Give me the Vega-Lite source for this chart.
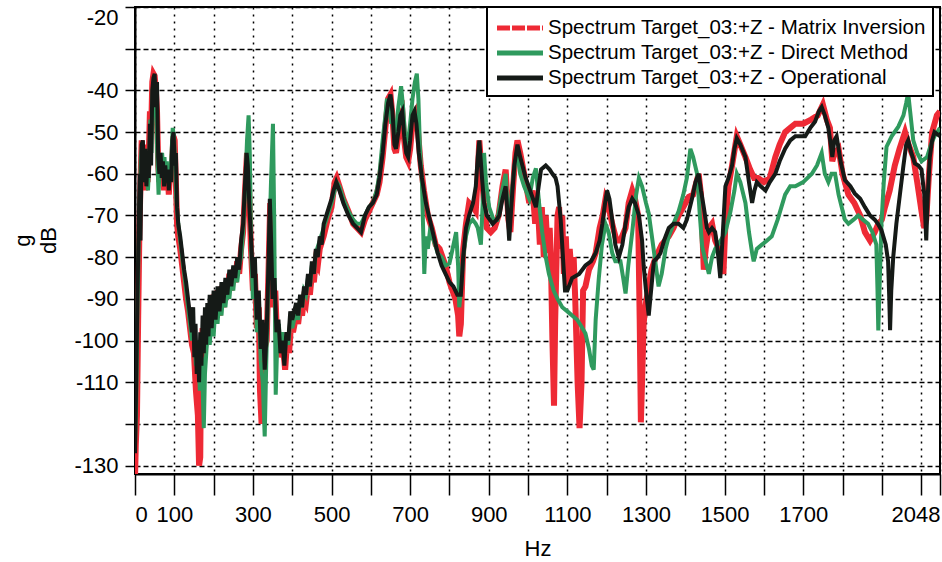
{
"$schema": "https://vega.github.io/schema/vega-lite/v6.json",
"width": 805, "height": 467,
"autosize": {"type": "none"},
"padding": {"left": 135, "top": 7, "right": 2, "bottom": 88},
"background": "white",
"datasets": {
"mi": [
{"hz":0,"db":-133},{"hz":2,"db":-125},{"hz":5,"db":-118},{"hz":8,"db":-95},{"hz":11,"db":-75},{"hz":14,"db":-62},{"hz":17,"db":-52},{"hz":20,"db":-60},{"hz":23,"db":-53},{"hz":26,"db":-64},{"hz":29,"db":-55},{"hz":32,"db":-62},{"hz":35,"db":-56},{"hz":38,"db":-45},{"hz":41,"db":-50},{"hz":44,"db":-38},{"hz":47,"db":-36},{"hz":50,"db":-36.5},{"hz":53,"db":-40},{"hz":56,"db":-45},{"hz":59,"db":-58},{"hz":62,"db":-62},{"hz":65,"db":-56},{"hz":68,"db":-61},{"hz":71,"db":-58},{"hz":74,"db":-64},{"hz":77,"db":-58},{"hz":80,"db":-63},{"hz":83,"db":-59},{"hz":86,"db":-65},{"hz":89,"db":-60},{"hz":92,"db":-61},{"hz":95,"db":-56},{"hz":98,"db":-51},{"hz":101,"db":-52},{"hz":104,"db":-62},{"hz":107,"db":-72},{"hz":110,"db":-75},{"hz":115,"db":-78},{"hz":120,"db":-82},{"hz":125,"db":-86},{"hz":130,"db":-90},{"hz":135,"db":-93},{"hz":140,"db":-97},{"hz":145,"db":-101},{"hz":150,"db":-103},{"hz":155,"db":-112},{"hz":160,"db":-118},{"hz":163,"db":-130},{"hz":166,"db":-128},{"hz":168,"db":-105},{"hz":172,"db":-97},{"hz":176,"db":-104},{"hz":180,"db":-94},{"hz":185,"db":-100},{"hz":190,"db":-91},{"hz":195,"db":-98},{"hz":200,"db":-89},{"hz":205,"db":-96},{"hz":210,"db":-88},{"hz":215,"db":-94},{"hz":220,"db":-87},{"hz":225,"db":-92},{"hz":230,"db":-86},{"hz":235,"db":-90},{"hz":240,"db":-84},{"hz":245,"db":-88},{"hz":250,"db":-83},{"hz":255,"db":-86},{"hz":260,"db":-81},{"hz":265,"db":-84},{"hz":270,"db":-78},{"hz":275,"db":-74},{"hz":280,"db":-64},{"hz":285,"db":-55},{"hz":290,"db":-63},{"hz":295,"db":-78},{"hz":300,"db":-88},{"hz":305,"db":-84},{"hz":310,"db":-97},{"hz":315,"db":-92},{"hz":318,"db":-112},{"hz":322,"db":-120},{"hz":325,"db":-108},{"hz":330,"db":-102},{"hz":335,"db":-100},{"hz":340,"db":-82},{"hz":344,"db":-67},{"hz":348,"db":-78},{"hz":352,"db":-92},{"hz":357,"db":-88},{"hz":362,"db":-101},{"hz":367,"db":-98},{"hz":372,"db":-104},{"hz":377,"db":-102},{"hz":382,"db":-107},{"hz":387,"db":-100},{"hz":392,"db":-103},{"hz":397,"db":-96},{"hz":402,"db":-98},{"hz":410,"db":-94},{"hz":415,"db":-96},{"hz":420,"db":-92},{"hz":425,"db":-94},{"hz":430,"db":-90},{"hz":435,"db":-91},{"hz":440,"db":-87},{"hz":445,"db":-89},{"hz":450,"db":-84},{"hz":455,"db":-86},{"hz":460,"db":-81},{"hz":465,"db":-82},{"hz":470,"db":-78},{"hz":480,"db":-75},{"hz":490,"db":-71},{"hz":500,"db":-68},{"hz":508,"db":-62},{"hz":513,"db":-61},{"hz":520,"db":-63},{"hz":530,"db":-66},{"hz":543,"db":-69},{"hz":555,"db":-72},{"hz":565,"db":-73},{"hz":575,"db":-74},{"hz":585,"db":-71},{"hz":595,"db":-69},{"hz":605,"db":-67},{"hz":615,"db":-65},{"hz":622,"db":-62},{"hz":630,"db":-56},{"hz":637,"db":-49},{"hz":644,"db":-42},{"hz":650,"db":-41},{"hz":655,"db":-46},{"hz":660,"db":-54},{"hz":664,"db":-55},{"hz":670,"db":-51},{"hz":675,"db":-46},{"hz":680,"db":-45},{"hz":685,"db":-52},{"hz":690,"db":-56},{"hz":695,"db":-57},{"hz":700,"db":-54},{"hz":708,"db":-46},{"hz":714,"db":-45},{"hz":720,"db":-50},{"hz":727,"db":-58},{"hz":735,"db":-64},{"hz":745,"db":-70},{"hz":755,"db":-73},{"hz":765,"db":-77},{"hz":775,"db":-78},{"hz":790,"db":-82},{"hz":800,"db":-86},{"hz":815,"db":-90},{"hz":822,"db":-94},{"hz":825,"db":-99},{"hz":829,"db":-96},{"hz":835,"db":-78},{"hz":842,"db":-72},{"hz":850,"db":-67},{"hz":860,"db":-68},{"hz":867,"db":-69},{"hz":872,"db":-60},{"hz":876,"db":-52},{"hz":882,"db":-60},{"hz":888,"db":-67},{"hz":895,"db":-73},{"hz":905,"db":-74},{"hz":915,"db":-73},{"hz":925,"db":-70},{"hz":935,"db":-63},{"hz":943,"db":-59},{"hz":950,"db":-71},{"hz":955,"db":-74},{"hz":962,"db":-63},{"hz":968,"db":-55},{"hz":973,"db":-52},{"hz":980,"db":-55},{"hz":990,"db":-60},{"hz":1003,"db":-67},{"hz":1012,"db":-64},{"hz":1018,"db":-72},{"hz":1024,"db":-66},{"hz":1030,"db":-77},{"hz":1035,"db":-68},{"hz":1040,"db":-80},{"hz":1045,"db":-70},{"hz":1050,"db":-79},{"hz":1055,"db":-73},{"hz":1058,"db":-80},{"hz":1062,"db":-100},{"hz":1066,"db":-115.6},{"hz":1069,"db":-95},{"hz":1075,"db":-70},{"hz":1079,"db":-68},{"hz":1083,"db":-78},{"hz":1087,"db":-70},{"hz":1091,"db":-84},{"hz":1096,"db":-75},{"hz":1101,"db":-87},{"hz":1106,"db":-78},{"hz":1112,"db":-86},{"hz":1116,"db":-80},{"hz":1120,"db":-90},{"hz":1126,"db":-110},{"hz":1131,"db":-121},{"hz":1136,"db":-110},{"hz":1140,"db":-88},{"hz":1146,"db":-87},{"hz":1155,"db":-83},{"hz":1165,"db":-81},{"hz":1172,"db":-79},{"hz":1182,"db":-73},{"hz":1190,"db":-70},{"hz":1197,"db":-66},{"hz":1205,"db":-68},{"hz":1214,"db":-72},{"hz":1225,"db":-76},{"hz":1235,"db":-76},{"hz":1248,"db":-73},{"hz":1256,"db":-67},{"hz":1265,"db":-64},{"hz":1272,"db":-66},{"hz":1280,"db":-70},{"hz":1284,"db":-95},{"hz":1287,"db":-119.6},{"hz":1290,"db":-110},{"hz":1294,"db":-96},{"hz":1298,"db":-92},{"hz":1305,"db":-88},{"hz":1314,"db":-83},{"hz":1325,"db":-80},{"hz":1340,"db":-77},{"hz":1358,"db":-75},{"hz":1370,"db":-73},{"hz":1383,"db":-70},{"hz":1395,"db":-68},{"hz":1409,"db":-65.5},{"hz":1420,"db":-65},{"hz":1434,"db":-60},{"hz":1440,"db":-65},{"hz":1447,"db":-83},{"hz":1452,"db":-78},{"hz":1460,"db":-73},{"hz":1468,"db":-72},{"hz":1476,"db":-76},{"hz":1485,"db":-78},{"hz":1497,"db":-84},{"hz":1502,"db":-72},{"hz":1510,"db":-63},{"hz":1519,"db":-58},{"hz":1531,"db":-51},{"hz":1540,"db":-53},{"hz":1553,"db":-56},{"hz":1565,"db":-59},{"hz":1575,"db":-61},{"hz":1585,"db":-61},{"hz":1600,"db":-62},{"hz":1615,"db":-61},{"hz":1629,"db":-56},{"hz":1640,"db":-53},{"hz":1654,"db":-50},{"hz":1667,"db":-49},{"hz":1680,"db":-48},{"hz":1700,"db":-48},{"hz":1720,"db":-47},{"hz":1737,"db":-46},{"hz":1750,"db":-43.4},{"hz":1760,"db":-47},{"hz":1768,"db":-49},{"hz":1774,"db":-57},{"hz":1780,"db":-55},{"hz":1790,"db":-54},{"hz":1800,"db":-60},{"hz":1815,"db":-65},{"hz":1830,"db":-67},{"hz":1845,"db":-70},{"hz":1857,"db":-74},{"hz":1870,"db":-76},{"hz":1882,"db":-74},{"hz":1891,"db":-72},{"hz":1900,"db":-71},{"hz":1908,"db":-68},{"hz":1920,"db":-64},{"hz":1933,"db":-58},{"hz":1945,"db":-54},{"hz":1959,"db":-50},{"hz":1968,"db":-53},{"hz":1980,"db":-56},{"hz":1990,"db":-62},{"hz":2001,"db":-69},{"hz":2008,"db":-73},{"hz":2013,"db":-71},{"hz":2020,"db":-60},{"hz":2028,"db":-50},{"hz":2034,"db":-48},{"hz":2040,"db":-46},{"hz":2048,"db":-45}
],
"dm": [
{"hz":0,"db":-125},{"hz":3,"db":-115},{"hz":6,"db":-95},{"hz":9,"db":-78},{"hz":12,"db":-66},{"hz":15,"db":-56},{"hz":18,"db":-53},{"hz":21,"db":-60},{"hz":24,"db":-54},{"hz":27,"db":-62},{"hz":30,"db":-56},{"hz":33,"db":-64},{"hz":36,"db":-58},{"hz":39,"db":-47},{"hz":42,"db":-55},{"hz":45,"db":-40},{"hz":48,"db":-37},{"hz":51,"db":-38},{"hz":54,"db":-46},{"hz":57,"db":-57},{"hz":60,"db":-65},{"hz":63,"db":-57},{"hz":66,"db":-59},{"hz":69,"db":-55},{"hz":72,"db":-60},{"hz":75,"db":-56},{"hz":78,"db":-61},{"hz":81,"db":-57},{"hz":84,"db":-62},{"hz":87,"db":-58},{"hz":90,"db":-61},{"hz":93,"db":-55},{"hz":96,"db":-49},{"hz":99,"db":-51},{"hz":102,"db":-57},{"hz":105,"db":-66},{"hz":110,"db":-72},{"hz":115,"db":-76},{"hz":120,"db":-80},{"hz":125,"db":-84},{"hz":130,"db":-88},{"hz":135,"db":-92},{"hz":140,"db":-96},{"hz":145,"db":-100},{"hz":150,"db":-97},{"hz":155,"db":-106},{"hz":160,"db":-100},{"hz":165,"db":-112},{"hz":170,"db":-104},{"hz":175,"db":-121},{"hz":178,"db":-108},{"hz":182,"db":-102},{"hz":186,"db":-97},{"hz":190,"db":-101},{"hz":195,"db":-94},{"hz":200,"db":-99},{"hz":205,"db":-91},{"hz":210,"db":-96},{"hz":215,"db":-89},{"hz":220,"db":-94},{"hz":225,"db":-88},{"hz":230,"db":-92},{"hz":235,"db":-87},{"hz":240,"db":-90},{"hz":245,"db":-85},{"hz":250,"db":-88},{"hz":255,"db":-83},{"hz":260,"db":-86},{"hz":265,"db":-82},{"hz":270,"db":-80},{"hz":275,"db":-74},{"hz":280,"db":-64},{"hz":285,"db":-52},{"hz":289,"db":-46},{"hz":292,"db":-55},{"hz":296,"db":-80},{"hz":300,"db":-90},{"hz":305,"db":-85},{"hz":310,"db":-98},{"hz":315,"db":-93},{"hz":320,"db":-105},{"hz":325,"db":-110},{"hz":330,"db":-123},{"hz":334,"db":-105},{"hz":338,"db":-90},{"hz":342,"db":-75},{"hz":346,"db":-62},{"hz":351,"db":-48},{"hz":354,"db":-70},{"hz":358,"db":-113},{"hz":362,"db":-100},{"hz":366,"db":-96},{"hz":370,"db":-102},{"hz":375,"db":-98},{"hz":380,"db":-104},{"hz":385,"db":-99},{"hz":390,"db":-101},{"hz":395,"db":-95},{"hz":400,"db":-97},{"hz":410,"db":-93},{"hz":415,"db":-95},{"hz":420,"db":-90},{"hz":425,"db":-92},{"hz":430,"db":-88},{"hz":435,"db":-89},{"hz":440,"db":-85},{"hz":445,"db":-87},{"hz":450,"db":-82},{"hz":455,"db":-84},{"hz":460,"db":-79},{"hz":470,"db":-76},{"hz":480,"db":-73},{"hz":490,"db":-70},{"hz":500,"db":-67},{"hz":508,"db":-64},{"hz":513,"db":-62},{"hz":520,"db":-63},{"hz":530,"db":-66},{"hz":543,"db":-69},{"hz":555,"db":-71},{"hz":565,"db":-72},{"hz":575,"db":-72},{"hz":585,"db":-70},{"hz":595,"db":-68},{"hz":605,"db":-67},{"hz":615,"db":-64},{"hz":622,"db":-60},{"hz":630,"db":-52},{"hz":637,"db":-46},{"hz":641,"db":-42},{"hz":646,"db":-44},{"hz":652,"db":-48},{"hz":656,"db":-47},{"hz":660,"db":-52},{"hz":664,"db":-50},{"hz":670,"db":-44},{"hz":677,"db":-39},{"hz":682,"db":-44},{"hz":688,"db":-52},{"hz":694,"db":-53},{"hz":700,"db":-48},{"hz":706,"db":-42},{"hz":712,"db":-38},{"hz":717,"db":-36},{"hz":721,"db":-42},{"hz":725,"db":-54},{"hz":730,"db":-62},{"hz":736,"db":-84},{"hz":740,"db":-75},{"hz":745,"db":-78},{"hz":750,"db":-74},{"hz":760,"db":-76},{"hz":770,"db":-79},{"hz":780,"db":-80},{"hz":790,"db":-82},{"hz":800,"db":-81.5},{"hz":808,"db":-78},{"hz":817,"db":-74},{"hz":822,"db":-82},{"hz":825,"db":-92},{"hz":829,"db":-88},{"hz":835,"db":-80},{"hz":842,"db":-75},{"hz":850,"db":-72},{"hz":859,"db":-71},{"hz":867,"db":-72},{"hz":872,"db":-73},{"hz":880,"db":-77},{"hz":885,"db":-66},{"hz":888,"db":-55},{"hz":893,"db":-62},{"hz":901,"db":-68},{"hz":912,"db":-71},{"hz":922,"db":-71},{"hz":932,"db":-65},{"hz":943,"db":-60},{"hz":948,"db":-68},{"hz":952,"db":-73},{"hz":958,"db":-65},{"hz":966,"db":-58},{"hz":973,"db":-55},{"hz":980,"db":-60},{"hz":990,"db":-63},{"hz":1003,"db":-66},{"hz":1012,"db":-61},{"hz":1020,"db":-58.7},{"hz":1028,"db":-67},{"hz":1036,"db":-74},{"hz":1045,"db":-80},{"hz":1053,"db":-84},{"hz":1065,"db":-88},{"hz":1075,"db":-90},{"hz":1087,"db":-92},{"hz":1100,"db":-93},{"hz":1112,"db":-94},{"hz":1125,"db":-95},{"hz":1135,"db":-96.5},{"hz":1146,"db":-98.3},{"hz":1155,"db":-102},{"hz":1162,"db":-106},{"hz":1167,"db":-107},{"hz":1172,"db":-95},{"hz":1180,"db":-85},{"hz":1188,"db":-77},{"hz":1197,"db":-72},{"hz":1205,"db":-74},{"hz":1214,"db":-79},{"hz":1222,"db":-81},{"hz":1235,"db":-81},{"hz":1242,"db":-85},{"hz":1248,"db":-88.7},{"hz":1255,"db":-82},{"hz":1265,"db":-74},{"hz":1275,"db":-65},{"hz":1282,"db":-61},{"hz":1290,"db":-63},{"hz":1300,"db":-67},{"hz":1307,"db":-69.5},{"hz":1315,"db":-75},{"hz":1325,"db":-82},{"hz":1332,"db":-87},{"hz":1340,"db":-84},{"hz":1350,"db":-78},{"hz":1358,"db":-75},{"hz":1370,"db":-72},{"hz":1383,"db":-69},{"hz":1395,"db":-65},{"hz":1404,"db":-61},{"hz":1413,"db":-54},{"hz":1420,"db":-56},{"hz":1430,"db":-60},{"hz":1437,"db":-70},{"hz":1443,"db":-77.5},{"hz":1452,"db":-81},{"hz":1460,"db":-84},{"hz":1468,"db":-80},{"hz":1476,"db":-78},{"hz":1490,"db":-76},{"hz":1502,"db":-74},{"hz":1515,"db":-69},{"hz":1525,"db":-64},{"hz":1531,"db":-60},{"hz":1540,"db":-62},{"hz":1553,"db":-67},{"hz":1562,"db":-74},{"hz":1570,"db":-79},{"hz":1574,"db":-81},{"hz":1582,"db":-78},{"hz":1595,"db":-77},{"hz":1608,"db":-76},{"hz":1620,"db":-75},{"hz":1635,"db":-71},{"hz":1654,"db":-65},{"hz":1667,"db":-63},{"hz":1680,"db":-63},{"hz":1700,"db":-62},{"hz":1722,"db":-60},{"hz":1735,"db":-58},{"hz":1747,"db":-55},{"hz":1755,"db":-60},{"hz":1764,"db":-62},{"hz":1772,"db":-60},{"hz":1781,"db":-60},{"hz":1790,"db":-65},{"hz":1798,"db":-68},{"hz":1806,"db":-71},{"hz":1815,"db":-72},{"hz":1828,"db":-71},{"hz":1840,"db":-70},{"hz":1852,"db":-71},{"hz":1865,"db":-72},{"hz":1876,"db":-74},{"hz":1886,"db":-77},{"hz":1889,"db":-88},{"hz":1891,"db":-97.6},{"hz":1894,"db":-88},{"hz":1899,"db":-72},{"hz":1905,"db":-62},{"hz":1912,"db":-53.5},{"hz":1925,"db":-51},{"hz":1942,"db":-48.7},{"hz":1955,"db":-46},{"hz":1962,"db":-43},{"hz":1967,"db":-40.6},{"hz":1972,"db":-45},{"hz":1980,"db":-52},{"hz":1990,"db":-55},{"hz":2001,"db":-57},{"hz":2015,"db":-56},{"hz":2025,"db":-53},{"hz":2034,"db":-51},{"hz":2048,"db":-49}
],
"op": [
{"hz":0,"db":-127},{"hz":3,"db":-110},{"hz":6,"db":-90},{"hz":9,"db":-75},{"hz":12,"db":-60},{"hz":14,"db":-76},{"hz":17,"db":-53},{"hz":20,"db":-52},{"hz":23,"db":-62},{"hz":26,"db":-54},{"hz":29,"db":-63},{"hz":32,"db":-56},{"hz":35,"db":-61},{"hz":38,"db":-48},{"hz":41,"db":-58},{"hz":44,"db":-40},{"hz":47,"db":-37},{"hz":50,"db":-36},{"hz":53,"db":-44},{"hz":56,"db":-38},{"hz":59,"db":-56},{"hz":62,"db":-60},{"hz":65,"db":-55},{"hz":68,"db":-61},{"hz":71,"db":-57},{"hz":74,"db":-63},{"hz":77,"db":-58},{"hz":80,"db":-62},{"hz":83,"db":-59},{"hz":86,"db":-64},{"hz":89,"db":-59},{"hz":92,"db":-62},{"hz":95,"db":-52},{"hz":98,"db":-50},{"hz":101,"db":-58},{"hz":104,"db":-55},{"hz":107,"db":-68},{"hz":110,"db":-72},{"hz":115,"db":-75},{"hz":120,"db":-79},{"hz":125,"db":-83},{"hz":130,"db":-86},{"hz":135,"db":-90},{"hz":140,"db":-94},{"hz":145,"db":-98},{"hz":148,"db":-92},{"hz":151,"db":-104},{"hz":154,"db":-96},{"hz":157,"db":-108},{"hz":160,"db":-100},{"hz":163,"db":-110},{"hz":166,"db":-98},{"hz":169,"db":-106},{"hz":172,"db":-94},{"hz":175,"db":-103},{"hz":178,"db":-92},{"hz":181,"db":-101},{"hz":184,"db":-91},{"hz":187,"db":-99},{"hz":190,"db":-89},{"hz":195,"db":-97},{"hz":200,"db":-88},{"hz":205,"db":-95},{"hz":210,"db":-87},{"hz":215,"db":-93},{"hz":220,"db":-86},{"hz":225,"db":-91},{"hz":230,"db":-85},{"hz":235,"db":-89},{"hz":240,"db":-83},{"hz":245,"db":-87},{"hz":250,"db":-82},{"hz":255,"db":-85},{"hz":260,"db":-80},{"hz":265,"db":-83},{"hz":270,"db":-76},{"hz":275,"db":-72},{"hz":280,"db":-62},{"hz":284,"db":-55},{"hz":287,"db":-58},{"hz":291,"db":-68},{"hz":295,"db":-75},{"hz":300,"db":-85},{"hz":305,"db":-80},{"hz":310,"db":-95},{"hz":315,"db":-88},{"hz":320,"db":-102},{"hz":325,"db":-95},{"hz":330,"db":-107},{"hz":335,"db":-98},{"hz":340,"db":-80},{"hz":343,"db":-66},{"hz":346,"db":-75},{"hz":350,"db":-90},{"hz":355,"db":-85},{"hz":360,"db":-98},{"hz":365,"db":-95},{"hz":370,"db":-103},{"hz":375,"db":-100},{"hz":380,"db":-106},{"hz":385,"db":-98},{"hz":390,"db":-100},{"hz":395,"db":-93},{"hz":400,"db":-95},{"hz":410,"db":-91},{"hz":415,"db":-94},{"hz":420,"db":-89},{"hz":425,"db":-92},{"hz":430,"db":-87},{"hz":435,"db":-89},{"hz":440,"db":-84},{"hz":445,"db":-87},{"hz":450,"db":-81},{"hz":455,"db":-84},{"hz":460,"db":-78},{"hz":465,"db":-80},{"hz":470,"db":-75},{"hz":475,"db":-77},{"hz":480,"db":-72},{"hz":490,"db":-69},{"hz":500,"db":-66},{"hz":505,"db":-64},{"hz":512,"db":-62},{"hz":520,"db":-64},{"hz":530,"db":-67},{"hz":543,"db":-70},{"hz":555,"db":-72},{"hz":565,"db":-73},{"hz":575,"db":-74},{"hz":585,"db":-70},{"hz":595,"db":-68},{"hz":605,"db":-67},{"hz":615,"db":-65},{"hz":622,"db":-61},{"hz":630,"db":-55},{"hz":637,"db":-48},{"hz":644,"db":-43},{"hz":650,"db":-41},{"hz":655,"db":-45},{"hz":660,"db":-53},{"hz":664,"db":-54},{"hz":670,"db":-50},{"hz":675,"db":-46},{"hz":680,"db":-45},{"hz":685,"db":-51},{"hz":690,"db":-55},{"hz":695,"db":-56},{"hz":700,"db":-52},{"hz":706,"db":-46},{"hz":711,"db":-45},{"hz":716,"db":-48},{"hz":722,"db":-55},{"hz":730,"db":-61},{"hz":740,"db":-67},{"hz":750,"db":-71},{"hz":760,"db":-75},{"hz":770,"db":-79},{"hz":780,"db":-82},{"hz":790,"db":-84},{"hz":800,"db":-86},{"hz":810,"db":-87},{"hz":820,"db":-89},{"hz":829,"db":-89},{"hz":835,"db":-80},{"hz":842,"db":-73},{"hz":850,"db":-70},{"hz":860,"db":-67},{"hz":867,"db":-63},{"hz":872,"db":-56},{"hz":876,"db":-52},{"hz":882,"db":-60},{"hz":888,"db":-67},{"hz":895,"db":-70},{"hz":910,"db":-72},{"hz":920,"db":-71},{"hz":927,"db":-70},{"hz":935,"db":-66},{"hz":943,"db":-63},{"hz":948,"db":-70},{"hz":952,"db":-76},{"hz":958,"db":-67},{"hz":965,"db":-58},{"hz":973,"db":-53},{"hz":980,"db":-56},{"hz":994,"db":-61},{"hz":1005,"db":-64},{"hz":1020,"db":-68},{"hz":1027,"db":-63},{"hz":1033,"db":-59},{"hz":1045,"db":-58},{"hz":1055,"db":-59},{"hz":1062,"db":-60},{"hz":1070,"db":-61},{"hz":1075,"db":-63},{"hz":1083,"db":-71},{"hz":1090,"db":-82},{"hz":1094,"db":-88},{"hz":1100,"db":-88},{"hz":1112,"db":-85},{"hz":1130,"db":-84},{"hz":1146,"db":-82},{"hz":1160,"db":-81},{"hz":1172,"db":-79},{"hz":1182,"db":-76},{"hz":1189,"db":-72},{"hz":1196,"db":-67},{"hz":1201,"db":-64},{"hz":1207,"db":-66},{"hz":1214,"db":-71},{"hz":1222,"db":-77},{"hz":1231,"db":-80},{"hz":1240,"db":-77},{"hz":1248,"db":-72},{"hz":1256,"db":-68},{"hz":1265,"db":-66},{"hz":1272,"db":-67},{"hz":1282,"db":-70},{"hz":1290,"db":-76},{"hz":1294,"db":-82},{"hz":1300,"db":-88},{"hz":1307,"db":-94},{"hz":1313,"db":-88},{"hz":1320,"db":-81},{"hz":1330,"db":-80},{"hz":1337,"db":-79},{"hz":1346,"db":-76},{"hz":1358,"db":-73},{"hz":1370,"db":-72},{"hz":1383,"db":-72},{"hz":1395,"db":-73},{"hz":1404,"db":-71},{"hz":1417,"db":-66},{"hz":1426,"db":-62},{"hz":1434,"db":-60},{"hz":1440,"db":-64},{"hz":1447,"db":-68},{"hz":1455,"db":-73},{"hz":1460,"db":-74},{"hz":1468,"db":-73},{"hz":1476,"db":-74},{"hz":1482,"db":-78},{"hz":1489,"db":-85},{"hz":1495,"db":-75},{"hz":1502,"db":-63},{"hz":1510,"db":-61},{"hz":1519,"db":-58},{"hz":1525,"db":-54},{"hz":1531,"db":-51.5},{"hz":1540,"db":-53},{"hz":1553,"db":-56},{"hz":1562,"db":-62},{"hz":1570,"db":-67},{"hz":1576,"db":-64},{"hz":1582,"db":-62},{"hz":1592,"db":-63},{"hz":1604,"db":-64},{"hz":1615,"db":-62},{"hz":1629,"db":-60},{"hz":1640,"db":-57},{"hz":1654,"db":-54},{"hz":1667,"db":-52},{"hz":1680,"db":-51},{"hz":1692,"db":-51},{"hz":1705,"db":-51},{"hz":1718,"db":-49},{"hz":1730,"db":-47.5},{"hz":1740,"db":-45},{"hz":1747,"db":-44},{"hz":1755,"db":-46},{"hz":1764,"db":-49},{"hz":1770,"db":-53},{"hz":1774,"db":-56},{"hz":1779,"db":-52},{"hz":1785,"db":-51},{"hz":1795,"db":-57},{"hz":1806,"db":-61.5},{"hz":1820,"db":-63},{"hz":1831,"db":-64.7},{"hz":1845,"db":-66},{"hz":1857,"db":-68},{"hz":1870,"db":-70},{"hz":1882,"db":-71},{"hz":1890,"db":-72},{"hz":1899,"db":-73.5},{"hz":1910,"db":-77},{"hz":1916,"db":-81},{"hz":1919,"db":-90},{"hz":1921,"db":-97.5},{"hz":1924,"db":-88},{"hz":1929,"db":-80},{"hz":1937,"db":-72},{"hz":1946,"db":-65},{"hz":1955,"db":-58},{"hz":1962,"db":-53},{"hz":1967,"db":-52},{"hz":1975,"db":-55},{"hz":1984,"db":-57.5},{"hz":1993,"db":-58},{"hz":2001,"db":-59},{"hz":2008,"db":-65},{"hz":2013,"db":-76},{"hz":2017,"db":-65},{"hz":2022,"db":-56},{"hz":2028,"db":-52},{"hz":2034,"db":-50},{"hz":2048,"db":-51}
]
},
"encoding": {
  "x": {"field": "hz", "type": "quantitative",
    "scale": {"domain": [0, 2048], "nice": false, "zero": false},
    "axis": {"title": "Hz", "values": [0,100,200,300,400,500,600,700,800,900,1000,1100,1200,1300,1400,1500,1600,1700,1800,1900,2000,2048],
      "labelExpr": "indexof([0,100,300,500,700,900,1100,1300,1500,1700,2048], datum.value) >= 0 ? '' + datum.value : ''",
      "labelFlush": true, "labelOverlap": false, "labelPadding": 9, "tickSize": 21,
      "grid": true, "gridDash": [2, 5], "titleY": 81, "titleBaseline": "alphabetic"}},
  "y": {"field": "db", "type": "quantitative",
    "scale": {"domain": [-132, -20], "nice": false, "zero": false},
    "axis": {"title": ["g", "dB"], "values": [-130,-120,-110,-100,-90,-80,-70,-60,-50,-40,-30,-20],
      "labelExpr": "datum.value == -30 || datum.value == -120 ? '' : '' + datum.value",
      "labelFlush": true, "labelOverlap": false, "labelPadding": 7, "tickSize": 10,
      "grid": true, "gridDash": [5, 3],
      "titleX": -106, "titleY": 233, "titleAngle": -90, "titleAlign": "center", "titleBaseline": "alphabetic", "titleLineHeight": 26}}
},
"layer": [
  {"data": {"name": "mi"}, "mark": {"type": "line", "strokeWidth": 6, "clip": true},
   "encoding": {"color": {"datum": "Matrix Inversion", "type": "nominal",
     "scale": {"domain": ["Matrix Inversion", "Direct Method", "Operational"], "range": ["#ee2a35", "#2f9a5e", "#151a17"]},
     "legend": {"title": null, "orient": "none", "legendX": 352, "legendY": 0,
       "labelExpr": "'Spectrum Target_03:+Z - ' + datum.label",
       "symbolType": "M-2,0H2", "symbolSize": 529, "symbolStrokeWidth": 5, "symbolOffset": 12, "labelOffset": 14,
       "labelFont": "Liberation Sans", "labelFontSize": 20.5, "labelColor": "black", "labelLimit": 500,
       "rowPadding": -2, "padding": 7, "fillColor": "white", "strokeColor": "black",
       "encode": {"legend": {"update": {"strokeWidth": {"value": 2}}},
                  "symbols": {"update": {"strokeDash": {"signal": "datum.value === 'Matrix Inversion' ? [13, 2] : [1, 0]"}}}}}}}},
  {"data": {"name": "dm"}, "mark": {"type": "line", "strokeWidth": 4, "clip": true},
   "encoding": {"color": {"datum": "Direct Method", "type": "nominal"}}},
  {"data": {"name": "op"}, "mark": {"type": "line", "strokeWidth": 4, "clip": true},
   "encoding": {"color": {"datum": "Operational", "type": "nominal"}}}
],
"config": {
  "view": {"stroke": "black", "strokeWidth": 2},
  "axis": {"labelFont": "Liberation Sans", "titleFont": "Liberation Sans", "labelFontSize": 22, "titleFontSize": 22,
    "titleFontWeight": "normal", "labelColor": "black", "titleColor": "black",
    "domainColor": "black", "domainWidth": 2, "tickColor": "black", "tickWidth": 1.5,
    "gridColor": "black", "gridOpacity": 1, "gridWidth": 1.5}
}
}
